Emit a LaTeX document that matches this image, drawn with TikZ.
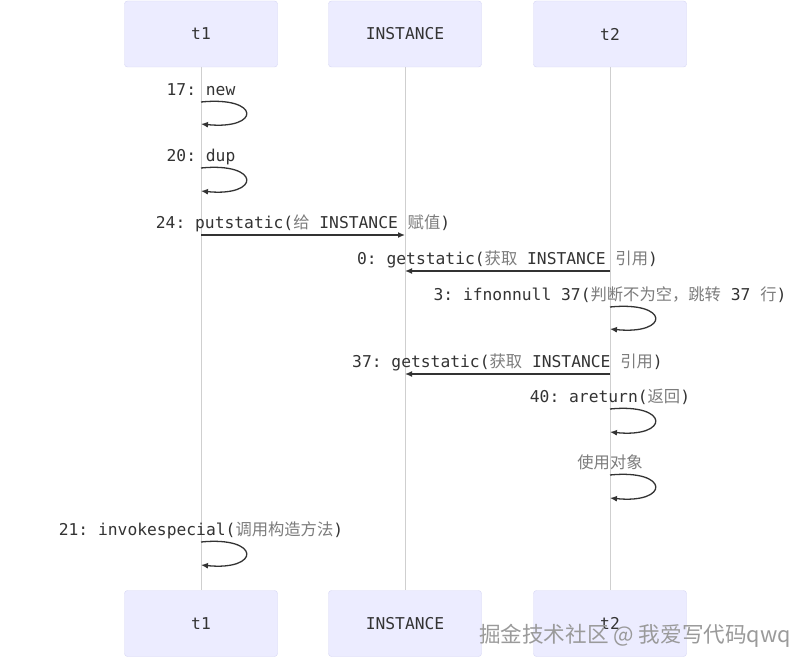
\documentclass[tikz,border=0pt]{standalone}
\usepackage{fontspec}
\setmonofont{DejaVu Sans Mono}
\newfontfamily\cjk{Noto Sans CJK SC}
\usepackage{xcolor}
\definecolor{actorfill}{HTML}{ECECFF}
\definecolor{actorline}{HTML}{D6D6F4}
\definecolor{ink}{HTML}{333333}
\definecolor{cjkgray}{HTML}{7C7C7C}
\definecolor{lifegray}{HTML}{CFCFCF}
\definecolor{markgray}{HTML}{9A9A9A}
\usetikzlibrary{arrows.meta}
\newcommand{\zh}[1]{{\cjk\color{cjkgray}#1}}
\tikzset{actor/.style={draw=actorline,fill=actorfill,rounded corners=3pt,minimum width=153pt,minimum height=66pt,inner sep=0pt},msg/.style={-{Latex[length=7pt,width=6pt]},draw=ink,line width=1.3pt},lbl/.style={anchor=base,inner sep=0pt,text=ink}}

\begin{document}
\begin{tikzpicture}[x=1pt,y=-1pt,font=\ttfamily\fontsize{16.3}{19}\selectfont,loop/.style={msg}]
\useasboundingbox[fill=white] (0,0) rectangle (811,671);
\foreach \x/\id/\txt in {201/t1/t1,405/inst/INSTANCE,610/t2/t2}{\draw[lifegray,line width=0.9pt] (\x,67)--(\x,590);\node[actor,text=ink] (\id) at (\x,34) {\txt};\node[actor,text=ink] (\id-bot) at (\x,623.5) {\txt};}
\node[lbl] (l1) at (t1 |- 0,95.5) {17: new};
\draw[loop] (t1 |- 0,102) .. controls +(60,-6) and +(60,6) .. (t1 |- 0,124);
\node[lbl] (l2) at (t1 |- 0,161.5) {20: dup};
\draw[loop] (t1 |- 0,168) .. controls +(60,-6) and +(60,6) .. (t1 |- 0,191);
\draw[msg] (t1 |- 0,235)--node[midway,lbl,yshift=6.5pt] (l3) {24: putstatic(\zh{给} INSTANCE \zh{赋值})}(inst |- 0,235);
\draw[msg] (t2 |- 0,271)--node[midway,lbl,yshift=6.5pt] (l4) {0: getstatic(\zh{获取} INSTANCE \zh{引用})}(inst |- 0,271);
\node[lbl] (l5) at (t2 |- 0,300.5) {3: ifnonnull 37(\zh{判断不为空，跳转} 37 \zh{行})};
\draw[loop] (t2 |- 0,307) .. controls +(60,-6) and +(60,6) .. (t2 |- 0,329);
\draw[msg] (t2 |- 0,374)--node[midway,lbl,yshift=6.5pt] (l6) {37: getstatic(\zh{获取} INSTANCE \zh{引用})}(inst |- 0,374);
\node[lbl] (l7) at (t2 |- 0,402.5) {40: areturn(\zh{返回})};
\draw[loop] (t2 |- 0,409) .. controls +(60,-6) and +(60,6) .. (t2 |- 0,432);
\node[lbl] (l8) at (t2 |- 0,468.5) {\zh{使用对象}};
\draw[loop] (t2 |- 0,475) .. controls +(60,-6) and +(60,6) .. (t2 |- 0,498);
\node[lbl] (l9) at (t1 |- 0,535.5) {21: invokespecial(\zh{调用构造方法})};
\draw[loop] (t1 |- 0,542) .. controls +(60,-6) and +(60,6) .. (t1 |- 0,565);
\node[font=\cjk\fontsize{21.6}{26}\selectfont,inner sep=0pt,text=markgray] (wm) at (635,636) {掘金技术社区 @ 我爱写代码qwq};
\end{tikzpicture}
\end{document}
